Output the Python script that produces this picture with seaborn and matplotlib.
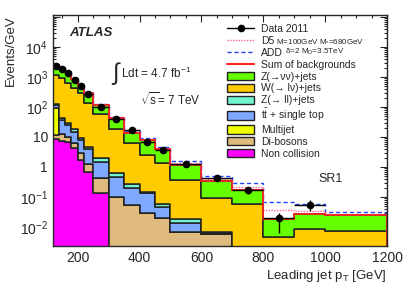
import numpy as np
import pandas as pd
import matplotlib
matplotlib.use('Agg')
import matplotlib.pyplot as plt
import seaborn as sns
from matplotlib.lines import Line2D
from matplotlib.patches import Patch
from matplotlib.ticker import FixedLocator, FixedFormatter, MultipleLocator, LogLocator, NullFormatter

# bin edges in leading jet pT [GeV]
edges = [120, 140, 160, 180, 200, 220, 250, 300, 350, 400, 450, 500, 600, 700, 800, 900, 1000, 1200]

# background components, events/GeV per bin
znn = [1450, 1070, 820, 430, 210, 155, 59, 24.4, 7.7, 5.3, 2.64, 0.84, 0.24, 0.111, 0.0144, 0.0193, 0.0166]
wlv = [1028, 886, 602, 411, 281, 130, 56, 18, 6.0, 2.35, 1.3, 0.342, 0.084, 0.057, 0.0037, 0.008, 0.0069]
zll = [5, 6, 4, 3.8, 1.4, 0.6, 0.5, 0.17, 0.07, 0.015, 0.013, 0.0045, 0.0004, 0.0001, 0.0001, 0.0001, 0.0001]
ttbar = [24, 25, 14, 8.3, 5.0, 2.7, 1.07, 0.36, 0.145, 0.105, 0.026, 0.0067, 0.0005, 0.0002, 0.0001, 0.0001, 0.0001]
multijet = [81, 0.5, 0.3, 0.1, 0.05, 0.02, 0.005, 0, 0, 0, 0, 0, 0, 0, 0, 0, 0]
diboson = [3.2, 5.0, 3.0, 2.0, 1.2, 0.6, 0.3, 0.1, 0.055, 0.03, 0.02, 0.0068, 0.0057, 0.0015, 0.0008, 0.0006, 0.0005]
noncoll = [8.5, 7.5, 7.0, 4.3, 1.7, 0.68, 0.135, 0, 0, 0, 0, 0, 0, 0, 0, 0, 0]

# signal + background expectations
add_sig = [2620, 2020, 1470, 875, 510, 297, 121, 45, 16, 9.0, 4.8, 1.6, 0.5, 0.3, 0.07, 0.058, 0.032]
d5_sig = [2610, 2010, 1460, 865, 505, 293, 119, 44, 15, 8.4, 4.4, 1.4, 0.4, 0.22, 0.037, 0.035, 0.028]

# data 2011 (no point in the last bin)
data = [2300, 1800, 1350, 800, 500, 270, 100, 40, 17, 7.0, 3.7, 1.3, 0.43, 0.167, 0.02, 0.054]
data_lo = [0, 0, 0, 0, 0, 0, 0, 0, 0, 0, 0, 0, 0.065, 0.04, 0.0137, 0.021]
data_hi = [0, 0, 0, 0, 0, 0, 0, 0, 0, 0, 0, 0, 0.07, 0.045, 0.009, 0.026]

procs = ['Z(\u2192\u03bd\u03bd)+jets', 'W(\u2192 l\u03bd)+jets', 'Z(\u2192 ll)+jets',
         r't$\bar{\rm t}$ + single top', 'Multijet', 'Di-bosons', 'Non collision']
colors = ['#66ff00', '#ffcc00', '#70f5d0', '#7fa8ff', '#eeff00', '#dfba7e', '#ff00ff']
comps = [znn, wlv, zll, ttbar, multijet, diboson, noncoll]

edges_a = np.array(edges, dtype=float)
centers = 0.5 * (edges_a[1:] + edges_a[:-1])
halfw = 0.5 * np.diff(edges_a)

rows = []
for name, vals in zip(procs, comps):
    for c, v in zip(centers, vals):
        rows.append({'pt': c, 'val': v, 'proc': name})
df = pd.DataFrame(rows)

sns.set_style('ticks')
plt.rcParams['font.family'] = ['Liberation Sans', 'DejaVu Sans']
plt.rcParams['mathtext.fontset'] = 'custom'
plt.rcParams['mathtext.rm'] = 'Liberation Sans'
plt.rcParams['mathtext.it'] = 'Liberation Sans:italic'
plt.rcParams['mathtext.bf'] = 'Liberation Sans:bold'

fig = plt.figure(figsize=(4.07, 2.93), dpi=100)
ax = fig.add_axes([0.130, 0.160, 0.821, 0.789])

sns.histplot(data=df, x='pt', weights='val', hue='proc', hue_order=procs,
             palette=colors, bins=edges, multiple='stack', element='step',
             fill=True, alpha=1, edgecolor='#222222', linewidth=1.1,
             legend=False, ax=ax)

total = np.sum(np.array(comps), axis=0)
ax.stairs(add_sig, edges, color='#2244ff', lw=1.0, ls=(0, (3, 2)), baseline=None, zorder=4)
ax.stairs(d5_sig, edges, color='#ff6688', lw=1.0, ls=(0, (1, 1)), baseline=None, zorder=4)
ax.stairs(total, edges, color='#ff2222', lw=1.2, baseline=1e-6, zorder=5)

nd = len(data)
ax.errorbar(centers[:nd], data, xerr=halfw[:nd], yerr=[data_lo, data_hi], fmt='o',
            color='black', ms=4.5, lw=1.0, capsize=0, zorder=6)

ax.set_yscale('log')
ax.set_xlim(120, 1200)
ax.set_ylim(2.3e-3, 1.17e5)

ax.xaxis.set_major_locator(MultipleLocator(200))
ax.xaxis.set_minor_locator(MultipleLocator(50))
yt = [1e-2, 1e-1, 1, 10, 1e2, 1e3, 1e4, 1e5]
ax.yaxis.set_major_locator(FixedLocator(yt))
ax.yaxis.set_major_formatter(FixedFormatter(['$10^{-2}$', '$10^{-1}$', '1', '10',
                                             '$10^{2}$', '$10^{3}$', '$10^{4}$', '']))
ax.yaxis.set_minor_locator(LogLocator(base=10, subs=np.arange(2, 10), numticks=30))
ax.yaxis.set_minor_formatter(NullFormatter())
ax.tick_params(which='both', direction='in', top=True, right=True, labelsize=10, width=0.8)
ax.tick_params(which='major', length=5)
ax.tick_params(which='minor', length=2.5)
for s in ax.spines.values():
    s.set_linewidth(1.0)
    s.set_zorder(10)

ax.set_xlabel('Leading jet p$_{\\rm T}$ [GeV]', fontsize=9.5, loc='right', labelpad=2)
ax.set_ylabel('Events/GeV', fontsize=9.5, loc='top', labelpad=2)

ax.text(0.05, 0.92, 'ATLAS', transform=ax.transAxes, fontsize=9.5,
        fontweight='bold', fontstyle='italic', va='center')
ax.text(0.175, 0.745, r'$\int$', transform=ax.transAxes, fontsize=17, va='center')
ax.text(0.205, 0.745, 'Ldt = 4.7 fb$^{-1}$', transform=ax.transAxes, fontsize=8.5, va='center')
ax.text(0.26, 0.635, r'$\sqrt{\rm s}$= 7 TeV', transform=ax.transAxes, fontsize=8.5, va='center')
ax.text(0.83, 0.29, 'SR1', transform=ax.transAxes, fontsize=9, va='center', ha='center')

handles = [Line2D([], [], color='black', marker='o', ms=4.5, lw=1.0),
           Line2D([], [], color='#ff6688', lw=1.0, ls=(0, (1, 1))),
           Line2D([], [], color='#2244ff', lw=1.0, ls=(0, (3, 2))),
           Line2D([], [], color='#ff2222', lw=1.5)]
labels = ['Data 2011', 'D5', 'ADD', 'Sum of backgrounds']
for name, col in zip(procs, colors):
    handles.append(Patch(facecolor=col, edgecolor='#222222', linewidth=1.0))
    labels.append(name)

leg = fig.legend(handles, labels, loc='upper left', bbox_to_anchor=(0.558, 0.918),
                 frameon=False, fontsize=7.5, handlelength=2.6, handleheight=0.85,
                 handletextpad=0.65, labelspacing=0.18, borderpad=0, borderaxespad=0)
texts = leg.get_texts()
fig.canvas.draw()
ax.annotate(' M=100GeV M$_{*}$=680GeV', xy=(1, 0.1), xycoords=texts[1], fontsize=5.8, va='bottom')
ax.annotate(' \u03b4=2 M$_{\\rm D}$=3.5TeV', xy=(1, 0.1), xycoords=texts[2], fontsize=5.8, va='bottom')

fig.savefig('out.png', dpi=100)
